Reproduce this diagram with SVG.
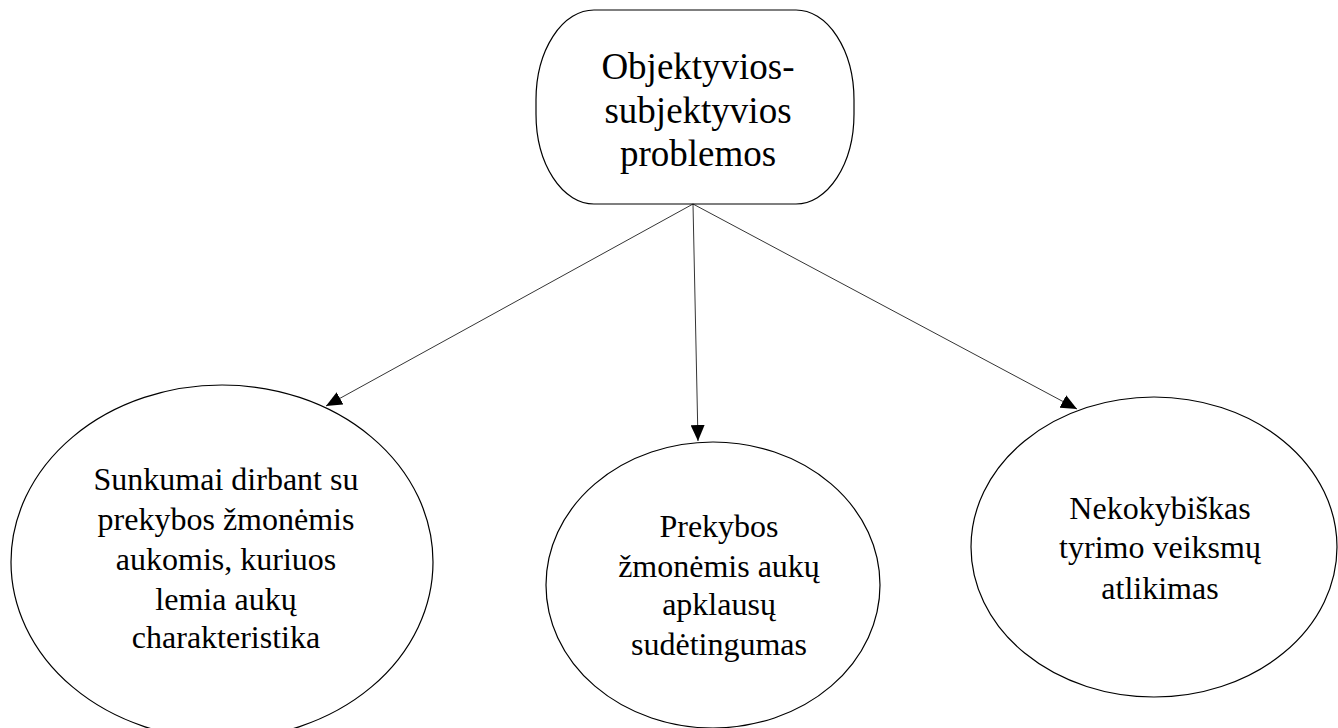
<svg xmlns="http://www.w3.org/2000/svg" width="1338" height="728" viewBox="0 0 1338 728">
<style>
.shape{fill:#fff;stroke:#000;stroke-width:1.2}
.lbl{font-family:"Liberation Serif",Tinos,"Times New Roman","DejaVu Serif",serif;fill:#000;text-anchor:middle}
.conn{stroke:#000;stroke-width:0.8;fill:none}
</style>
<defs>
<marker id="arr" viewBox="0 0 16 14" refX="16" refY="7" markerWidth="16" markerHeight="14" markerUnits="userSpaceOnUse" orient="auto">
<path d="M0,0 L16,7 L0,14 Z" fill="#000"/>
</marker>
</defs>
<rect width="1338" height="728" fill="#fff"/>
<g id="top">
<rect class="shape" x="536" y="10" width="318" height="194" rx="58" ry="90"/>
<text class="lbl" font-size="37"><tspan x="698" y="79">Objektyvios-</tspan><tspan x="698" y="123">subjektyvios</tspan><tspan x="698" y="166">problemos</tspan></text>
</g>
<g id="left">
<ellipse class="shape" cx="222" cy="562" rx="211" ry="177"/>
<text class="lbl" font-size="32"><tspan x="226" y="490">Sunkumai dirbant su</tspan><tspan x="226" y="530">prekybos žmonėmis</tspan><tspan x="226" y="570">aukomis, kuriuos</tspan><tspan x="226" y="610">lemia aukų</tspan><tspan x="226" y="648">charakteristika</tspan></text>
</g>
<g id="middle">
<ellipse class="shape" cx="713" cy="585" rx="167" ry="143"/>
<text class="lbl" font-size="32"><tspan x="719" y="537">Prekybos</tspan><tspan x="719" y="577">žmonėmis aukų</tspan><tspan x="719" y="615">apklausų</tspan><tspan x="719" y="655">sudėtingumas</tspan></text>
</g>
<g id="right">
<ellipse class="shape" cx="1154" cy="547" rx="183" ry="150"/>
<text class="lbl" font-size="32"><tspan x="1160" y="519">Nekokybiškas</tspan><tspan x="1160" y="558">tyrimo veiksmų</tspan><tspan x="1160" y="599">atlikimas</tspan></text>
</g>
<g id="connectors">
<line class="conn" x1="693" y1="204" x2="326" y2="406" marker-end="url(#arr)"/>
<line class="conn" x1="693" y1="204" x2="698" y2="441" marker-end="url(#arr)"/>
<line class="conn" x1="693" y1="204" x2="1077" y2="409" marker-end="url(#arr)"/>
</g>
</svg>
